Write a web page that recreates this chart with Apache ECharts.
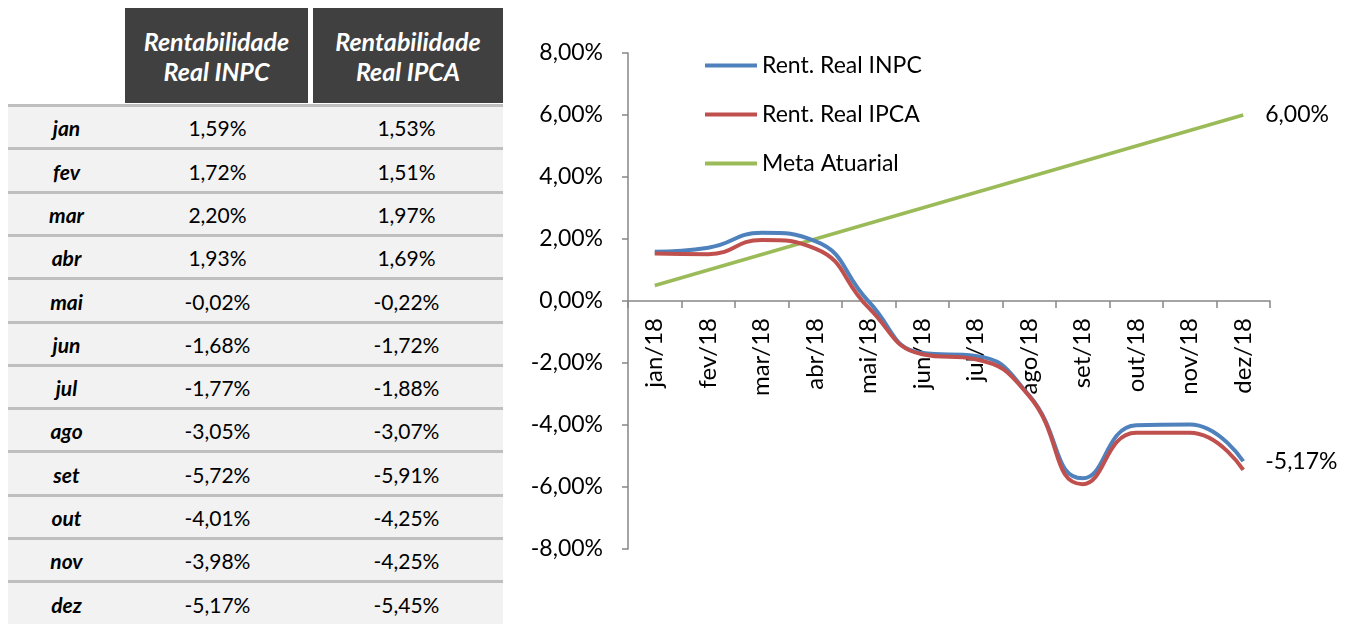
<!DOCTYPE html>
<html>
<head>
<meta charset="utf-8">
<script src="https://cdn.jsdelivr.net/npm/echarts@6/dist/echarts.min.js"></script>
<style>
  html, body { margin: 0; padding: 0; background: #fff; }
  body { width: 1355px; height: 624px; position: relative; overflow: hidden; font-family: Lato, "Open Sans", sans-serif; }
  #tabela { position: absolute; left: 8px; top: 0; width: 495px; height: 624px; }
  .cab { position: absolute; top: 8px; height: 95px; background: #404040; color: #fff;
         font-weight: bold; font-style: italic; font-size: 25px; line-height: 30px;
         display: flex; align-items: center; justify-content: center; text-align: center; }
  .linha { position: absolute; left: 0; width: 495px; background: #f2f2f2; border-top: 3px solid #bfbfbf; box-sizing: border-box; }
  .cel { position: absolute; top: 1px; bottom: 0; display: flex; align-items: center; justify-content: center; font-size: 21px; color: #000; }
  .mes { font-weight: bold; font-style: italic; }
  #grafico { position: absolute; left: 510px; top: 0; width: 845px; height: 624px; }
</style>
</head>
<body>
<div id="tabela"></div>
<div id="grafico"></div>
<script>
// dados
var meses = ['jan', 'fev', 'mar', 'abr', 'mai', 'jun', 'jul', 'ago', 'set', 'out', 'nov', 'dez'];
var categorias = ['jan/18', 'fev/18', 'mar/18', 'abr/18', 'mai/18', 'jun/18', 'jul/18', 'ago/18', 'set/18', 'out/18', 'nov/18', 'dez/18'];
var rentINPC = [1.59, 1.72, 2.20, 1.93, -0.02, -1.68, -1.77, -3.05, -5.72, -4.01, -3.98, -5.17];
var rentIPCA = [1.53, 1.51, 1.97, 1.69, -0.22, -1.72, -1.88, -3.07, -5.91, -4.25, -4.25, -5.45];
var metaAtuarial = [0.5, 1.0, 1.5, 2.0, 2.5, 3.0, 3.5, 4.0, 4.5, 5.0, 5.5, 6.0];
var cabecalhos = ['Rentabilidade<br>Real INPC', 'Rentabilidade<br>Real IPCA'];

function fmt(v) {
  return v.toFixed(2).replace('.', ',') + '%';
}

// tabela da esquerda
var tabela = document.getElementById('tabela');
var colX = [0, 117, 302];
var colW = [117, 185, 193];
var cabX = [117, 305];
var cabW = [183, 190];
cabecalhos.forEach(function (t, i) {
  var d = document.createElement('div');
  d.className = 'cab';
  d.style.left = cabX[i] + 'px';
  d.style.width = cabW[i] + 'px';
  d.innerHTML = t;
  tabela.appendChild(d);
});
var topo = 104, alt = 43.3;
meses.forEach(function (m, i) {
  var l = document.createElement('div');
  l.className = 'linha';
  l.style.top = (topo + i * alt) + 'px';
  l.style.height = (alt + 0.5) + 'px';
  var txt = [m, fmt(rentINPC[i]), fmt(rentIPCA[i])];
  txt.forEach(function (t, j) {
    var c = document.createElement('div');
    c.className = 'cel' + (j === 0 ? ' mes' : '');
    c.style.left = colX[j] + 'px';
    c.style.width = colW[j] + 'px';
    c.textContent = t;
    l.appendChild(c);
  });
  tabela.appendChild(l);
});

// grafico
var chart = echarts.init(document.getElementById('grafico'));
var fonte = 'Lato, "Open Sans", sans-serif';
var rotuloFinal = { show: true, distance: 22, fontSize: 23, color: '#000', fontFamily: fonte, formatter: function (p) { return fmt(p.value); } };
var option = {
  animation: false,
  textStyle: { fontFamily: fonte },
  legend: {
    orient: 'vertical',
    left: 190,
    top: 49,
    itemWidth: 52,
    itemHeight: 4,
    itemGap: 26,
    icon: 'rect',
    textStyle: { fontSize: 23, color: '#000', fontFamily: fonte },
    data: ['Rent. Real INPC', 'Rent. Real IPCA', 'Meta Atuarial']
  },
  grid: { left: 118, right: 85, top: 53, bottom: 75 },
  xAxis: {
    type: 'category',
    data: categorias,
    boundaryGap: true,
    position: 'bottom',
    offset: -248,
    axisLine: { onZero: false, lineStyle: { color: '#868686', width: 1.5 } },
    axisTick: { show: true, length: 7, interval: 0, lineStyle: { color: '#868686', width: 1.5 } },
    axisLabel: { rotate: 90, interval: 0, fontSize: 24, color: '#000', margin: 17, fontFamily: fonte }
  },
  yAxis: {
    type: 'value',
    min: -8,
    max: 8,
    interval: 2,
    splitLine: { show: false },
    axisLine: { show: true, lineStyle: { color: '#868686', width: 1.5 } },
    axisTick: { show: true, length: 6, lineStyle: { color: '#868686', width: 1.5 } },
    axisLabel: { fontSize: 23, color: '#000', margin: 25, fontFamily: fonte, formatter: function (v) { return fmt(v); } }
  },
  series: [
    {
      name: 'Rent. Real INPC',
      type: 'line',
      data: rentINPC,
      smooth: 0.5,
      showSymbol: false,
      symbol: 'none',
      color: '#4f81bd',
      lineStyle: { width: 4 },
      endLabel: rotuloFinal,
      z: 3
    },
    {
      name: 'Rent. Real IPCA',
      type: 'line',
      data: rentIPCA,
      smooth: 0.5,
      showSymbol: false,
      symbol: 'none',
      color: '#c0504d',
      lineStyle: { width: 4 },
      z: 4
    },
    {
      name: 'Meta Atuarial',
      type: 'line',
      data: metaAtuarial,
      showSymbol: false,
      symbol: 'none',
      color: '#9bbb59',
      lineStyle: { width: 3.5 },
      endLabel: rotuloFinal,
      z: 2
    }
  ]
};
chart.setOption(option);
</script>
</body>
</html>
